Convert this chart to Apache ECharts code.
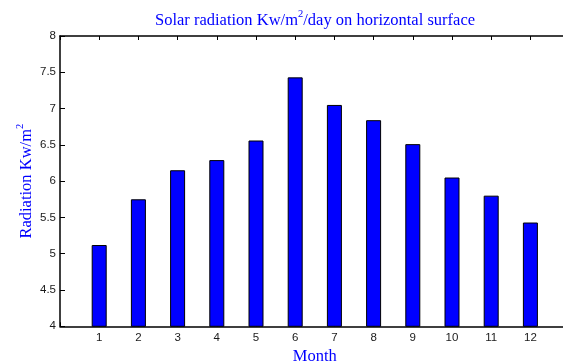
<!DOCTYPE html>
<html>
<head>
<meta charset="utf-8">
<script src="https://cdn.jsdelivr.net/npm/echarts@6/dist/echarts.min.js"></script>
<style>
  html, body { margin: 0; padding: 0; background: #fff; }
  #chart { width: 563px; height: 363px; }
</style>
</head>
<body>
<div id="chart"></div>
<script>
// Monthly mean solar radiation on a horizontal surface
const months = [1, 2, 3, 4, 5, 6, 7, 8, 9, 10, 11, 12];
const radiation = [5.12, 5.75, 6.15, 6.29, 6.56, 7.43, 7.05, 6.84, 6.51, 6.05, 5.80, 5.43];
const yTicks = [4, 4.5, 5, 5.5, 6, 6.5, 7, 7.5, 8];

const serif = 'Liberation Serif';
const sans = 'Liberation Sans';
const blue = '#0000ff';

// superscript "2": small glyph pinned to the top of a tall line box
const supStyle = { fontFamily: serif, fontSize: 10.5, color: blue, verticalAlign: 'top', lineHeight: 10 };
const nameStyle = { fontFamily: serif, fontSize: 16.5, color: blue, lineHeight: 24 };

const chart = echarts.init(document.getElementById('chart'), null, { renderer: 'canvas' });

const monthAxisBase = {
  type: 'value',
  min: 0,
  max: 13,
  interval: 1,
  splitLine: { show: false },
  axisLine: { show: true, onZero: false, lineStyle: { color: '#000', width: 1.5 } },
  axisTick: { show: true, inside: true, length: 4, lineStyle: { color: '#000', width: 1 } }
};

chart.setOption({
  animation: false,
  backgroundColor: '#fff',
  title: {
    text: 'Solar radiation Kw/m{sup|2}/day on horizontal surface',
    left: 155,
    top: 9,
    padding: 0,
    textStyle: Object.assign({}, nameStyle, { fontWeight: 'normal', rich: { sup: supStyle } })
  },
  grid: {
    left: 60, top: 36, width: 509.6, height: 290.3,
    containLabel: false,
    outerBoundsMode: 'none'
  },
  xAxis: [
    Object.assign({}, monthAxisBase, {
      position: 'bottom',
      name: 'Month',
      nameLocation: 'middle',
      nameGap: 22,
      nameMoveOverlap: false,
      nameTextStyle: { fontFamily: serif, fontSize: 16.5, color: blue, lineHeight: 16 },
      axisLabel: {
        margin: 6,
        fontFamily: sans,
        fontSize: 11.5,
        color: '#1a1a1a',
        formatter: v => (months.indexOf(v) >= 0 ? String(v) : '')
      }
    }),
    Object.assign({}, monthAxisBase, {
      position: 'top',
      axisLabel: { show: false }
    })
  ],
  yAxis: {
    type: 'value',
    min: yTicks[0],
    max: yTicks[yTicks.length - 1],
    interval: 0.5,
    name: 'Radiation Kw/m{sup|2}',
    nameLocation: 'middle',
    nameGap: 21,
    nameMoveOverlap: false,
    nameTextStyle: Object.assign({}, nameStyle, { rich: { sup: supStyle } }),
    splitLine: { show: false },
    axisLine: { show: true, lineStyle: { color: '#000', width: 1.5 } },
    axisTick: { show: true, inside: true, length: 5, lineStyle: { color: '#000', width: 1 } },
    axisLabel: {
      margin: 4,
      fontFamily: sans,
      fontSize: 11.5,
      color: '#1a1a1a',
      formatter: v => String(v)
    }
  },
  series: [{
    type: 'bar',
    xAxisIndex: 0,
    barWidth: 15,
    clip: true,
    itemStyle: { color: blue, borderColor: '#000', borderWidth: 1 },
    data: months.map((m, i) => [m, radiation[i]])
  }]
});
</script>
</body>
</html>
